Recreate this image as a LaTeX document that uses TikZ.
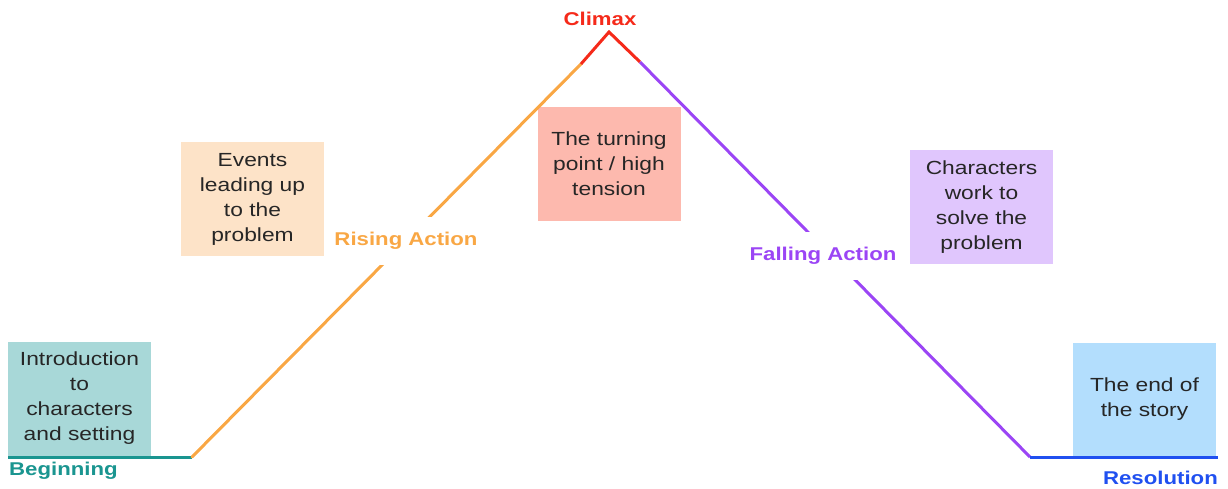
\documentclass[tikz,border=0pt]{standalone}
\usepackage{fontspec}
\setmainfont[FakeStretch=1.2]{Liberation Sans}
\definecolor{cteal}{HTML}{1A9590}
\definecolor{corange}{HTML}{F9A744}
\definecolor{cred}{HTML}{F52A1A}
\definecolor{cpurple}{HTML}{9B45F5}
\definecolor{cblue}{HTML}{2050F0}
\definecolor{fteal}{HTML}{A8D8D8}
\definecolor{forange}{HTML}{FDE3C8}
\definecolor{fred}{HTML}{FDB9AE}
\definecolor{fpurple}{HTML}{E0C6FD}
\definecolor{fblue}{HTML}{B3DEFD}
\begin{document}
\begin{tikzpicture}[x=1pt,y=-1pt,
  infobox/.style={minimum width=143pt,minimum height=114pt,inner sep=0pt,
    align=center,font=\fontsize{19}{25}\selectfont,text=black!85},
  stagelabel/.style={font=\bfseries\fontsize{18.5}{22}\selectfont,inner sep=0pt},
  gaplabel/.style={stagelabel,fill=white,inner xsep=2pt,inner ysep=15pt},
  arc/.style={line width=3pt}]
\useasboundingbox (0,0) rectangle (1228,489);
% boxes
\node[infobox,fill=fteal] (intro) at (79.5,398.5) {Introduction\\to\\characters\\and setting};
\node[infobox,fill=forange] (events) at (252.5,199) {Events\\leading up\\to the\\problem};
\node[infobox,fill=fred] (turning) at (609,164) {The turning\\point / high\\tension};
\node[infobox,fill=fpurple] (work) at (981.5,207) {Characters\\work to\\solve the\\problem};
\node[infobox,fill=fblue] (end) at (1144.5,399.5) {The end of\\the story};
% path coordinates
\coordinate (b0) at (8,457);
\coordinate (b1) at (192,457);
\coordinate (r1) at (581,64);
\coordinate (peak) at (609,32);
\coordinate (f0) at (640,62);
\coordinate (e0) at (1030,457);
\coordinate (e1) at (1218,457);
% lines
\draw[arc,cteal] (b0) -- (b1);
\draw[arc,corange,line cap=round] (b1) -- (r1);
\draw[arc,cred] (r1) -- (peak) -- (f0);
\draw[arc,cpurple] (f0) -- (e0);
\draw[arc,cblue] (e0) -- (e1);
% labels
\node[stagelabel,text=cteal,anchor=west] (beginning) at (9,471) {Beginning};
\node[gaplabel,text=corange] (rising) at (406,241) {Rising Action};
\node[stagelabel,text=cred] (climax) at (600,19) {Climax};
\node[gaplabel,text=cpurple] (falling) at (823,256) {Falling Action};
\node[stagelabel,text=cblue,anchor=east] (resolution) at (1218,478) {Resolution};
\end{tikzpicture}
\end{document}
